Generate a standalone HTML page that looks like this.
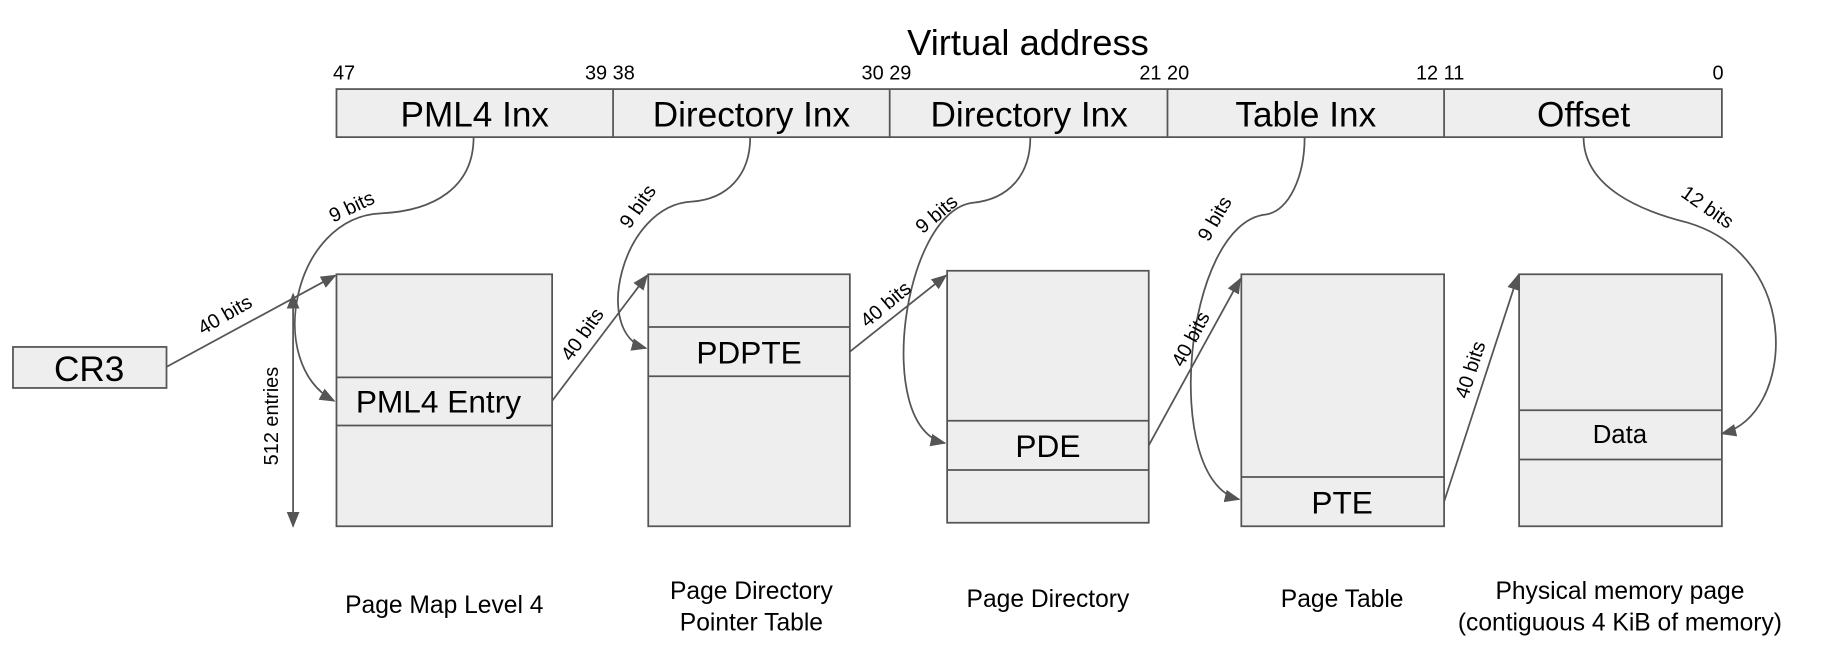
<!DOCTYPE html>
<html><head><style>html,body{margin:0;padding:0;background:#fff}svg{display:block}</style></head><body>
<svg width="1838" height="647" viewBox="0 0 1568 552" xmlns="http://www.w3.org/2000/svg" font-family="Liberation Sans, sans-serif" fill="#000">
<defs><marker id="a" viewBox="0 0 10 10" refX="9" refY="5" markerWidth="9" markerHeight="9" orient="auto-start-reverse"><path d="M0,1 L10,5 L0,9 z" fill="#555"/></marker></defs>
<g stroke="#555" stroke-width="1.5" fill="#eee">
<rect x="287" y="76" width="1182" height="41"/>
<line x1="523" y1="76" x2="523" y2="117"/><line x1="759" y1="76" x2="759" y2="117"/><line x1="996" y1="76" x2="996" y2="117"/><line x1="1232" y1="76" x2="1232" y2="117"/>
<rect x="11" y="296" width="131" height="35"/>
<rect x="287" y="234" width="184" height="215"/><line x1="287" y1="322" x2="471" y2="322"/><line x1="287" y1="363" x2="471" y2="363"/>
<rect x="553" y="234" width="172" height="215"/><line x1="553" y1="279" x2="725" y2="279"/><line x1="553" y1="321" x2="725" y2="321"/>
<rect x="808" y="231" width="172" height="215"/><line x1="808" y1="359" x2="980" y2="359"/><line x1="808" y1="401" x2="980" y2="401"/>
<rect x="1059" y="234" width="173" height="215"/><line x1="1059" y1="407" x2="1232" y2="407"/>
<rect x="1296" y="234" width="173" height="215"/><line x1="1296" y1="350" x2="1469" y2="350"/><line x1="1296" y1="392" x2="1469" y2="392"/>
</g>
<g stroke="#555" stroke-width="1.5" fill="none" marker-end="url(#a)">
<path d="M404,117 C404,160 370,180 325,182 C250,185 225,310 285,342"/>
<path d="M640,117 C640,150 620,170 590,172 C530,175 505,285 551,297"/>
<path d="M879,117 C879,150 860,170 830,173 C770,180 745,365 806,378"/>
<path d="M1113,117 C1113,150 1100,180 1080,183 C1010,190 990,410 1057,426"/>
<path d="M1351,117 C1351,160 1400,180 1440,190 C1540,220 1530,355 1469,370"/>
<path d="M142,313 L286,235"/>
<path d="M471,342 L552,235"/>
<path d="M725,300 L807,235"/>
<path d="M980,380 L1058,238"/>
<path d="M1232,428 L1295,235"/>
<path d="M250,449 L250,251" marker-start="url(#a)"/>
</g>
<text x="877" y="47" font-size="31" text-anchor="middle">Virtual address</text>
<g font-size="17">
<text x="284" y="68">47</text><text x="499" y="68">39 38</text><text x="735" y="68">30 29</text><text x="972" y="68">21 20</text><text x="1208" y="68">12 11</text><text x="1461" y="68">0</text>
</g>
<g font-size="30" text-anchor="middle">
<text x="405" y="108">PML4 Inx</text><text x="641" y="108">Directory Inx</text><text x="878" y="108">Directory Inx</text><text x="1114" y="108">Table Inx</text><text x="1351" y="108">Offset</text>
<text x="76" y="325">CR3</text>
</g>
<g font-size="27" text-anchor="middle">
<text x="374" y="352">PML4 Entry</text><text x="639" y="310">PDPTE</text><text x="894" y="390">PDE</text><text x="1145" y="438">PTE</text>
</g>
<text x="1382" y="378" font-size="22" text-anchor="middle">Data</text>
<g font-size="21" text-anchor="middle">
<text x="379" y="523">Page Map Level 4</text>
<text x="641" y="511">Page Directory</text><text x="641" y="538">Pointer Table</text>
<text x="894" y="518">Page Directory</text>
<text x="1145" y="518">Page Table</text>
<text x="1382" y="511">Physical memory page</text><text x="1382" y="538">(contiguous 4 KiB of memory)</text>
</g>
<g font-size="17">
<text transform="translate(284,190) rotate(-25)">9 bits</text>
<text transform="translate(537,196) rotate(-55)">9 bits</text>
<text transform="translate(787,200) rotate(-40)">9 bits</text>
<text transform="translate(1031,207) rotate(-60)">9 bits</text>
<text transform="translate(1433,167) rotate(35)">12 bits</text>
<text transform="translate(173,286) rotate(-30)">40 bits</text>
<text transform="translate(487,309) rotate(-55)">40 bits</text>
<text transform="translate(740,280) rotate(-40)">40 bits</text>
<text transform="translate(1009,314) rotate(-62)">40 bits</text>
<text transform="translate(1252,341) rotate(-72)">40 bits</text>
<text transform="translate(237,397) rotate(-90)">512 entries</text>
</g>
</svg>
</body></html>
